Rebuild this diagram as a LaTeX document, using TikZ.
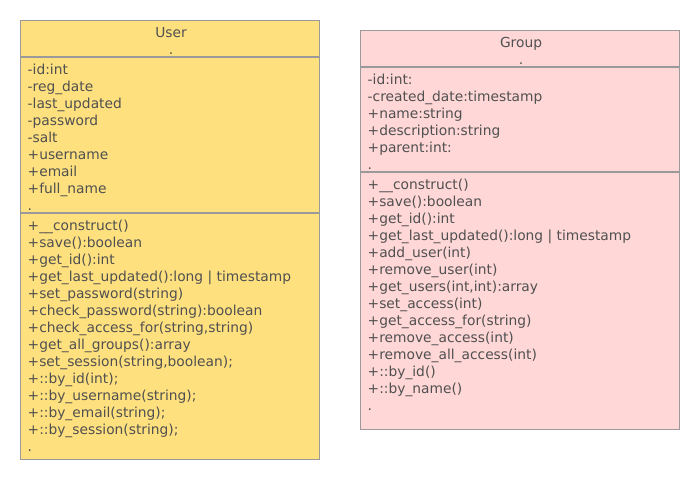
\documentclass[tikz,border=0pt]{standalone}
\usepackage{fontspec}
\setmainfont{DejaVu Sans}
\definecolor{userfill}{HTML}{FEE07F}
\definecolor{groupfill}{HTML}{FFD7D7}
\definecolor{edge}{HTML}{9A9A9A}
\definecolor{ink}{HTML}{505050}
\tikzset{
  classbox/.style={draw=edge, line width=1.1pt, rectangle, inner sep=0pt, anchor=north west},
  sepline/.style={draw=edge, line width=1.1pt},
  txt/.style={anchor=base west, inner sep=0pt, text=ink, font=\fontsize{13.8}{17}\selectfont},
  ttl/.style={anchor=base, inner sep=0pt, text=ink, font=\fontsize{13.8}{17}\selectfont}
}
\begin{document}
\begin{tikzpicture}[x=1pt, y=-1pt]
\useasboundingbox (0,0) rectangle (700,480);
% User class
\node[classbox, fill=userfill, minimum width=299pt, minimum height=439pt] (user) at (20,20) {};
\coordinate (us1) at (20,57);
\coordinate (us1e) at (319,57);
\coordinate (us2) at (20,213);
\coordinate (us2e) at (319,213);
\draw[sepline] (us1) -- (us1e);
\draw[sepline] (us2) -- (us2e);
\node[ttl] (utitle) at (171,37) {User};
\node[ttl] (utdot) at (171,54) {.};
\foreach \t [count=\i] in {-id:int,-reg\_date,-last\_updated,-password,-salt,+username,+email,+full\_name,.}
  \node[txt] (ua\i) at (27.5,{74+17*(\i-1)}) {\t};
\foreach \t [count=\i] in {+\_\_construct(),+save():boolean,+get\_id():int,+get\_last\_updated():long | timestamp,+set\_password(string),+check\_password(string):boolean,{+check\_access\_for(string,string)},+get\_all\_groups():array,{+set\_session(string,boolean);},+::by\_id(int);,+::by\_username(string);,+::by\_email(string);,+::by\_session(string);,.}
  \node[txt] (um\i) at (27.5,{230+17*(\i-1)}) {\t};
% Group class
\node[classbox, fill=groupfill, minimum width=319pt, minimum height=399pt] (group) at (360,30) {};
\coordinate (gs1) at (360,67);
\coordinate (gs1e) at (679,67);
\coordinate (gs2) at (360,172);
\coordinate (gs2e) at (679,172);
\draw[sepline] (gs1) -- (gs1e);
\draw[sepline] (gs2) -- (gs2e);
\node[ttl] (gtitle) at (521,47) {Group};
\node[ttl] (gtdot) at (521,64) {.};
\foreach \t [count=\i] in {-id:int:,-created\_date:timestamp,+name:string,+description:string,+parent:int:,.}
  \node[txt] (ga\i) at (367.5,{84+17*(\i-1)}) {\t};
\foreach \t [count=\i] in {+\_\_construct(),+save():boolean,+get\_id():int,+get\_last\_updated():long | timestamp,+add\_user(int),+remove\_user(int),{+get\_users(int,int):array},+set\_access(int),+get\_access\_for(string),+remove\_access(int),+remove\_all\_access(int),+::by\_id(),+::by\_name(),.}
  \node[txt] (gm\i) at (367.5,{189+17*(\i-1)}) {\t};
\end{tikzpicture}
\end{document}
